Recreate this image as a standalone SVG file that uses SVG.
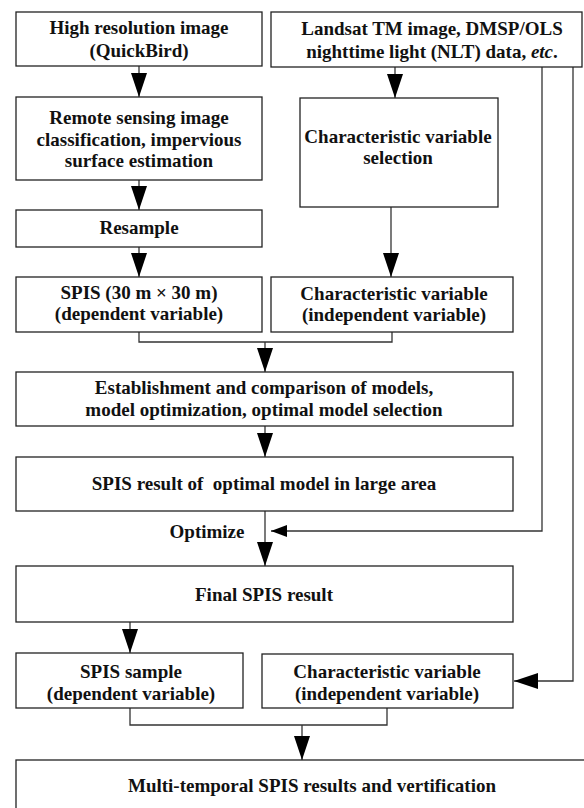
<svg xmlns="http://www.w3.org/2000/svg" width="584" height="808" viewBox="0 0 584 808">
<defs>
<style>
.box{fill:#fff;stroke:#222;stroke-width:1.3}
.t{font-family:'Liberation Serif','DejaVu Serif',serif;font-weight:bold;font-size:19px;fill:#111;text-anchor:middle}
.c{fill:none;stroke:#333;stroke-width:1.3}
</style>
<marker id="ah" markerUnits="userSpaceOnUse" markerWidth="24" markerHeight="16" refX="24" refY="8" orient="auto">
<path d="M0,0 L24,8 L0,16 z" fill="#000"/>
</marker>
<marker id="ahs" markerUnits="userSpaceOnUse" markerWidth="16" markerHeight="12" refX="16" refY="6" orient="auto">
<path d="M0,0 L16,6 L0,12 z" fill="#000"/>
</marker>
</defs>
<rect width="584" height="808" fill="#fff"/>
<g id="connectors">
<line class="c" x1="139" y1="66" x2="139" y2="97" marker-end="url(#ah)"/>
<line class="c" x1="395" y1="67" x2="395" y2="98" marker-end="url(#ah)"/>
<line class="c" x1="139" y1="180" x2="139" y2="210" marker-end="url(#ah)"/>
<line class="c" x1="139" y1="247" x2="139" y2="277" marker-end="url(#ah)"/>
<line class="c" x1="391" y1="207" x2="391" y2="277" marker-end="url(#ah)"/>
<polyline class="c" points="139,332 139,342 392,342 392,332"/>
<line class="c" x1="265" y1="342" x2="265" y2="372" marker-end="url(#ah)"/>
<line class="c" x1="265" y1="426" x2="265" y2="457" marker-end="url(#ah)"/>
<line class="c" x1="265" y1="511" x2="265" y2="566" marker-end="url(#ah)"/>
<polyline class="c" points="542,67 542,531 271,531" marker-end="url(#ahs)"/>
<polyline class="c" points="573,67 573,681 514,681" marker-end="url(#ah)"/>
<line class="c" x1="130" y1="622" x2="130" y2="653" marker-end="url(#ah)"/>
<polyline class="c" points="130,708 130,725 387,725 387,708"/>
<line class="c" x1="302" y1="725" x2="302" y2="760" marker-end="url(#ah)"/>
<text class="t" x="207" y="538">Optimize</text>
</g>
<g id="n1"><rect class="box" x="16" y="12" width="246" height="54"/>
<text class="t" x="139" y="34">High resolution image</text><text class="t" x="139" y="57">(QuickBird)</text></g>
<g id="n2"><rect class="box" x="271" y="12" width="311" height="55"/>
<text class="t" x="432" y="35">Landsat TM image, DMSP/OLS</text><text class="t" x="432" y="58">nighttime light (NLT) data, <tspan font-style="italic">etc</tspan>.</text></g>
<g id="n3"><rect class="box" x="16" y="97" width="246" height="83"/>
<text class="t" x="139" y="124">Remote sensing image</text><text class="t" x="139" y="146">classification, impervious</text><text class="t" x="139" y="167">surface estimation</text></g>
<g id="n4"><rect class="box" x="300" y="98" width="198" height="109"/>
<text class="t" x="398" y="143">Characteristic variable</text><text class="t" x="398" y="164">selection</text></g>
<g id="n5"><rect class="box" x="16" y="210" width="246" height="37"/>
<text class="t" x="139" y="234">Resample</text></g>
<g id="n6"><rect class="box" x="16" y="277" width="246" height="55"/>
<text class="t" x="139" y="299">SPIS (30 m × 30 m)</text><text class="t" x="139" y="320">(dependent variable)</text></g>
<g id="n7"><rect class="box" x="271" y="277" width="242" height="55"/>
<text class="t" x="394" y="300">Characteristic variable</text><text class="t" x="394" y="321">(independent variable)</text></g>
<g id="n8"><rect class="box" x="16" y="372" width="497" height="54"/>
<text class="t" x="264" y="394">Establishment and comparison of models,</text><text class="t" x="264" y="416">model optimization, optimal model selection</text></g>
<g id="n9"><rect class="box" x="16" y="457" width="497" height="54"/>
<text class="t" x="264" y="490" xml:space="preserve">SPIS result of  optimal model in large area</text></g>
<g id="n10"><rect class="box" x="16" y="566" width="497" height="56"/>
<text class="t" x="264" y="601">Final SPIS result</text></g>
<g id="n11"><rect class="box" x="16" y="653" width="227" height="55"/>
<text class="t" x="131" y="678">SPIS sample</text><text class="t" x="131" y="700">(dependent variable)</text></g>
<g id="n12"><rect class="box" x="262" y="654" width="251" height="54"/>
<text class="t" x="387" y="678">Characteristic variable</text><text class="t" x="387" y="700">(independent variable)</text></g>
<g id="n13"><rect class="box" x="16" y="760" width="600" height="70"/>
<text class="t" x="312" y="792">Multi-temporal SPIS results and vertification</text></g>
</svg>
